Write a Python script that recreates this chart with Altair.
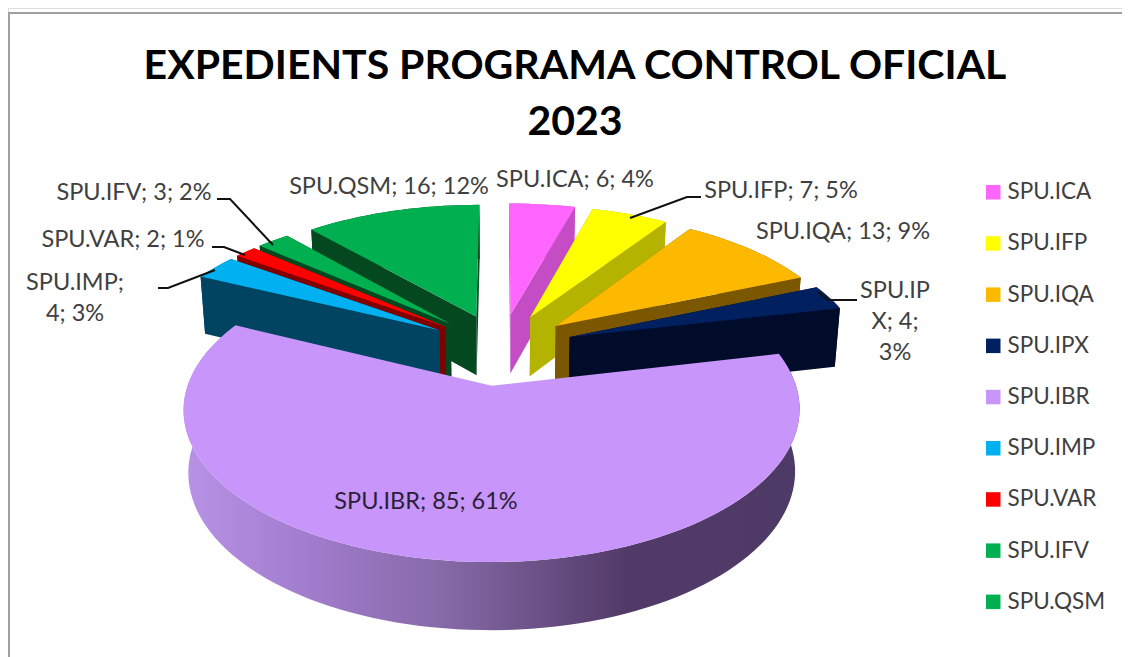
import math
import altair as alt
import pandas as pd

# ---- chart values ----
categories = ["SPU.ICA", "SPU.IFP", "SPU.IQA", "SPU.IPX", "SPU.IBR", "SPU.IMP", "SPU.VAR", "SPU.IFV", "SPU.QSM"]
values = [6, 7, 13, 4, 85, 4, 2, 3, 16]
percents = [4, 5, 9, 3, 61, 3, 1, 2, 12]
title_lines = ["EXPEDIENTS PROGRAMA CONTROL OFICIAL", "2023"]

# ---- styling ----
top_colors = ["#ff66ff", "#ffff00", "#fdb900", "#002060", "#c896fa", "#00b0f0", "#ff0000", "#00b050", "#00b050"]
dark_colors = ["#c44cc4", "#b3b300", "#7a5700", "#000c2a", "#6b5090", "#004462", "#800000", "#04481f", "#04481f"]
FONT = "Lato"
W, H = 1114, 649
OX, OY = 8, 8           # page offset of the plot area

# ---- 3-D pie camera (perspective of a tilted disc) ----
CX, CY, RX, RY, PERSP, DEPTH, SHRINK = 501, 347.5, 292, 137, 0.15, 60, 0.985
EXPLODE = {"SPU.IBR": 0.27}
DEFAULT_EXPLODE = 0.25


def project(u, v, down=False):
    w = 1 + PERSP * v
    x = RX * u / w
    y = CY - RY * v / w
    if down:
        y += DEPTH / w ** 0.6
        x *= SHRINK
    return [CX + x - OX, y - OY]


def feature(part, ring):
    return {"type": "Feature", "properties": {"part": part},
            "geometry": {"type": "Polygon", "coordinates": [ring + [ring[0]]]}}


total = sum(values)
slices = {}
acc = 0
for name, val in zip(categories, values):
    a0 = acc / total * 2 * math.pi
    acc += val
    a1 = acc / total * 2 * math.pi
    mid = (a0 + a1) / 2
    e = EXPLODE.get(name, DEFAULT_EXPLODE)
    ou, ov = e * math.sin(mid), e * math.cos(mid)
    n = max(3, int((a1 - a0) / math.radians(2)))
    arc = [(ou + math.sin(a0 + (a1 - a0) * i / n), ov + math.cos(a0 + (a1 - a0) * i / n)) for i in range(n + 1)]
    slices[name] = ((ou, ov), arc)


def top_face(name):
    (ou, ov), arc = slices[name]
    return feature(name, [project(ou, ov)] + [project(u, v) for u, v in arc])


def side_faces(name):
    (ou, ov), arc = slices[name]
    part = name + " side"
    first, last = arc[0], arc[-1]
    return [
        feature(part, [project(ou, ov), project(*first), project(*first, True), project(ou, ov, True)]),
        feature(part, [project(ou, ov), project(*last), project(*last, True), project(ou, ov, True)]),
        feature(part, [project(u, v) for u, v in arc] + [project(u, v, True) for u, v in reversed(arc)]),
    ]


paint_order = ["SPU.QSM", "SPU.IFV", "SPU.VAR", "SPU.IMP", "SPU.ICA", "SPU.IFP", "SPU.IQA", "SPU.IPX"]
back = []
for name in paint_order:
    back += side_faces(name)
    back.append(top_face(name))

(_ou, _ov), ibr_arc = slices["SPU.IBR"]
ibr_wall = [feature("SPU.IBR side", [project(u, v) for u, v in ibr_arc] + [project(u, v, True) for u, v in reversed(ibr_arc)])]
ibr_top = [top_face("SPU.IBR")]

domain = categories + [c + " side" for c in categories]
color_range = top_colors + dark_colors
identity = alt.Projection(type="identity", scale=1, translate=[0, 0])
color = alt.Color(
    "properties.part:N",
    scale=alt.Scale(domain=domain, range=color_range),
    legend=alt.Legend(
        values=categories, title=None, orient="none", legendX=974, legendY=173,
        symbolType="square", symbolSize=210, symbolStrokeWidth=0, symbolOpacity=1,
        labelFont=FONT, labelFontSize=22.5, labelColor="#404040", labelOffset=3,
        rowPadding=28.2, labelLimit=200,
    ),
)

back_layer = alt.Chart(alt.Data(values=back)).mark_geoshape(strokeWidth=0).encode(color=color).project(**identity.to_dict())
wall_layer = alt.Chart(alt.Data(values=ibr_wall)).mark_geoshape(
    strokeWidth=0,
    fill=alt.LinearGradient(
        gradient="linear", x1=0, x2=1, y1=0, y2=0,
        stops=[
            alt.GradientStop(color="#b892e6", offset=0),
            alt.GradientStop(color="#a27ccd", offset=0.2),
            alt.GradientStop(color="#866aa8", offset=0.42),
            alt.GradientStop(color="#523a68", offset=0.72),
            alt.GradientStop(color="#4e3a66", offset=1),
        ],
    ),
).project(**identity.to_dict())
top_layer = alt.Chart(alt.Data(values=ibr_top)).mark_geoshape(strokeWidth=0).encode(color=color).project(**identity.to_dict())

# ---- data-label layout (page pixels) ----
label_layout = {
    "SPU.ICA": (575, 180, "SPU.ICA; 6; 4%"),
    "SPU.IFP": (781, 191, "SPU.IFP; 7; 5%"),
    "SPU.IQA": (843, 232, "SPU.IQA; 13; 9%"),
    "SPU.IPX": (895, 291, "SPU.IP\nX; 4;\n3%"),
    "SPU.IBR": (426, 502, "SPU.IBR; 85; 61%"),
    "SPU.IMP": (75, 283, "SPU.IMP;\n4; 3%"),
    "SPU.VAR": (123, 240, "SPU.VAR; 2; 1%"),
    "SPU.IFV": (134, 193, "SPU.IFV; 3; 2%"),
    "SPU.QSM": (389, 187, "SPU.QSM; 16; 12%"),
}
labels = pd.DataFrame([
    {"name": k, "lx": v[0] - OX, "ly": v[1] - OY, "text": v[2]} for k, v in label_layout.items()
])
label_layer = alt.Chart(labels).mark_text(
    font=FONT, fontSize=23.5, lineHeight=31, align="center", baseline="middle", lineBreak="\n"
).encode(
    x=alt.X("lx:Q", scale=None, axis=None),
    y=alt.Y("ly:Q", scale=None, axis=None),
    text="text:N",
    fill=alt.condition(alt.datum.name == "SPU.IBR", alt.value("#2a2035"), alt.value("#404040")),
)

# ---- leader lines (page pixels) ----
leaders = [
    [(217, 199), (230, 199), (273, 245)],
    [(212, 247), (224, 247), (245, 255)],
    [(158, 288), (168, 288), (215, 270)],
    [(701, 197), (687, 197), (630, 218)],
    [(857, 300), (828, 300), (818, 292)],
]
leader_features = [
    {"type": "Feature", "properties": {},
     "geometry": {"type": "LineString", "coordinates": [[x - OX, y - OY] for x, y in pts]}}
    for pts in leaders
]
leader_layer = alt.Chart(alt.Data(values=leader_features)).mark_geoshape(
    filled=False, stroke="#111111", strokeWidth=2
).project(**identity.to_dict())

# ---- frame ----
frame_top = alt.Chart(pd.DataFrame({"a": [0]})).mark_rule(color="#a0a0a0", strokeWidth=2).encode(
    x=alt.value(0), x2=alt.value(W), y=alt.value(5))
frame_left = alt.Chart(pd.DataFrame({"a": [0]})).mark_rule(color="#a0a0a0", strokeWidth=2).encode(
    x=alt.value(1), y=alt.value(5), y2=alt.value(H))

chart = alt.layer(
    frame_top, frame_left, back_layer, leader_layer, wall_layer, top_layer, label_layer
).properties(
    width=W, height=H, padding=0, autosize=alt.AutoSizeParams(type="none"),
    title=alt.TitleParams(
        text=title_lines, anchor="middle", dx=10, dy=140, font=FONT, fontSize=41, fontWeight="bold",
        color="#000000", lineHeight=56,
    ),
).configure_view(stroke=None).configure(background="white")

chart.save("out.html", embed_options={"renderer": "svg", "actions": False})
